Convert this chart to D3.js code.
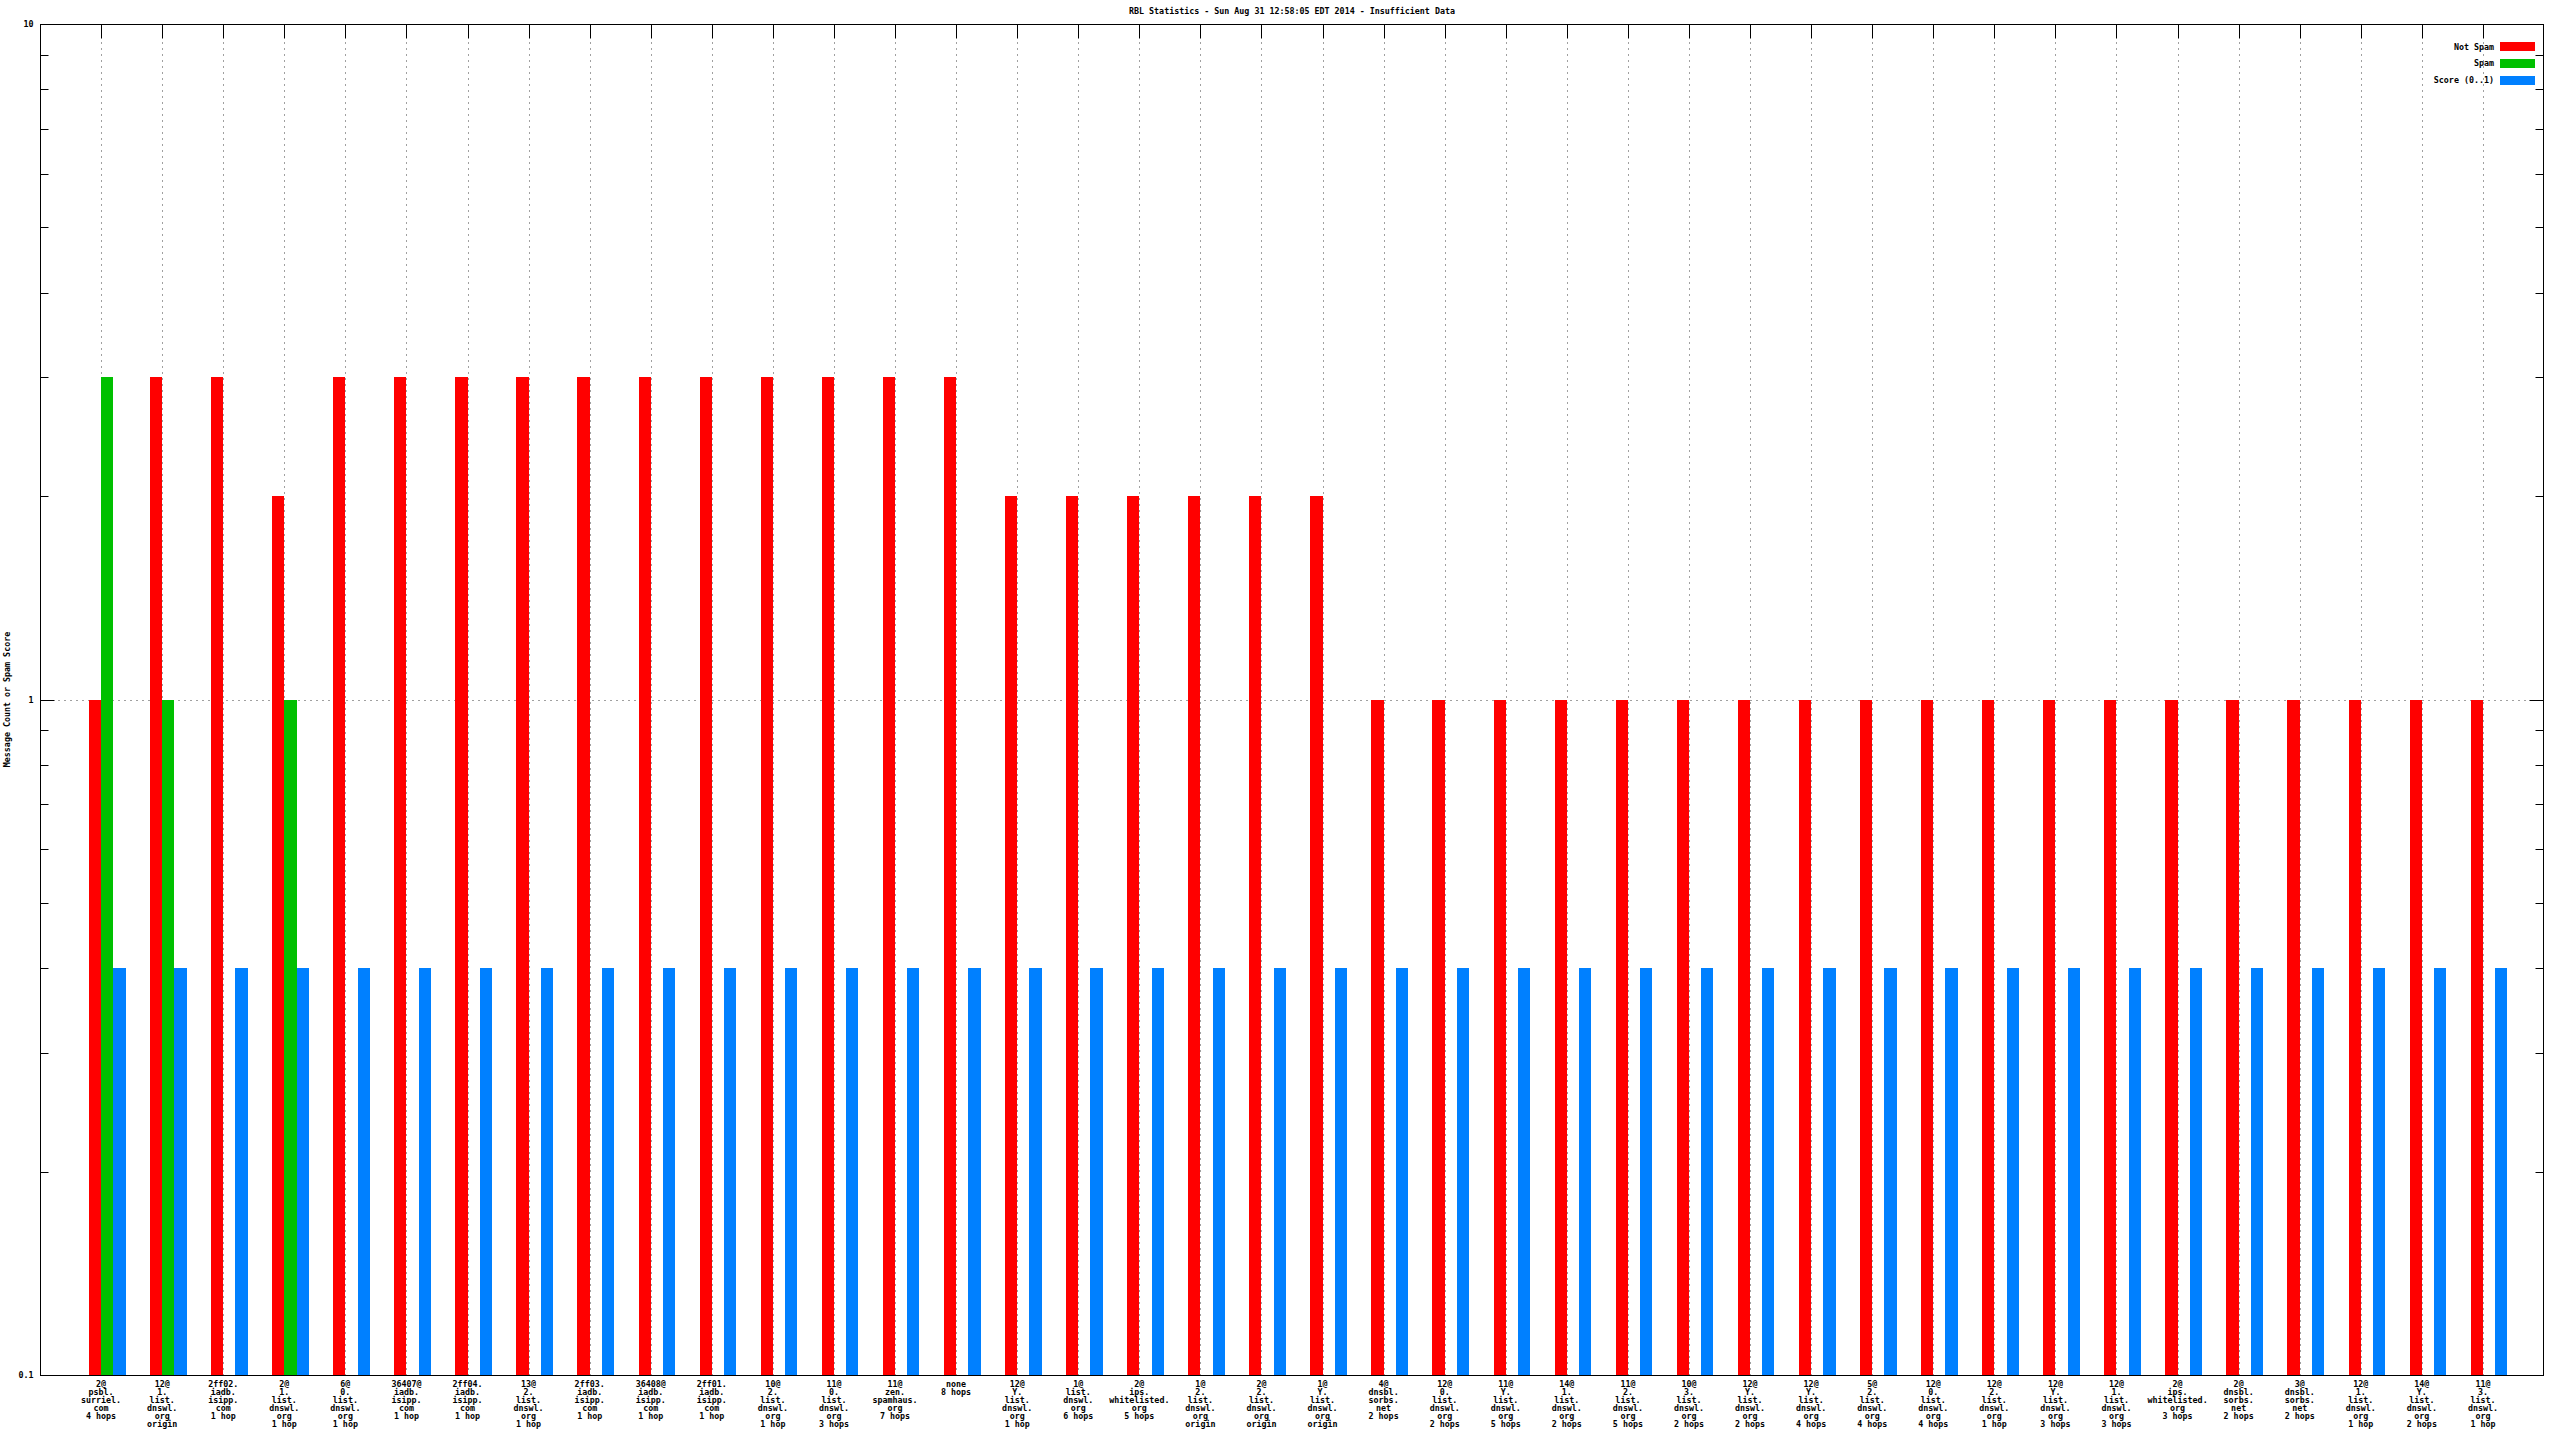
<!DOCTYPE html>
<html>
<head>
<meta charset="utf-8">
<script src="https://cdn.jsdelivr.net/npm/d3@7"></script>
<style>
  html, body { margin: 0; padding: 0; background: #fff; }
  svg { display: block; }
  text { font-family: 'DejaVu Sans Mono', 'Liberation Mono', monospace; font-size: 8.33px; font-weight: bold; fill: #000; }
</style>
</head>
<body>
<script>
// ---------- DATA ----------
const title = "RBL Statistics - Sun Aug 31 12:58:05 EDT 2014 - Insufficient Data";
const yLabel = "Message Count or Spam Score";
const seriesNames = ["Not Spam", "Spam", "Score (0..1)"];
const seriesColors = ["#ff0000", "#00c000", "#0080ff"];
const categories = [
  "2@\npsbl.\nsurriel.\ncom\n4 hops",
  "12@\n1.\nlist.\ndnswl.\norg\norigin",
  "2ff02.\niadb.\nisipp.\ncom\n1 hop",
  "2@\n1.\nlist.\ndnswl.\norg\n1 hop",
  "6@\n0.\nlist.\ndnswl.\norg\n1 hop",
  "36407@\niadb.\nisipp.\ncom\n1 hop",
  "2ff04.\niadb.\nisipp.\ncom\n1 hop",
  "13@\n2.\nlist.\ndnswl.\norg\n1 hop",
  "2ff03.\niadb.\nisipp.\ncom\n1 hop",
  "36408@\niadb.\nisipp.\ncom\n1 hop",
  "2ff01.\niadb.\nisipp.\ncom\n1 hop",
  "10@\n2.\nlist.\ndnswl.\norg\n1 hop",
  "11@\n0.\nlist.\ndnswl.\norg\n3 hops",
  "11@\nzen.\nspamhaus.\norg\n7 hops",
  "none\n8 hops",
  "12@\nY.\nlist.\ndnswl.\norg\n1 hop",
  "1@\nlist.\ndnswl.\norg\n6 hops",
  "2@\nips.\nwhitelisted.\norg\n5 hops",
  "1@\n2.\nlist.\ndnswl.\norg\norigin",
  "2@\n2.\nlist.\ndnswl.\norg\norigin",
  "1@\nY.\nlist.\ndnswl.\norg\norigin",
  "4@\ndnsbl.\nsorbs.\nnet\n2 hops",
  "12@\n0.\nlist.\ndnswl.\norg\n2 hops",
  "11@\nY.\nlist.\ndnswl.\norg\n5 hops",
  "14@\n1.\nlist.\ndnswl.\norg\n2 hops",
  "11@\n2.\nlist.\ndnswl.\norg\n5 hops",
  "10@\n3.\nlist.\ndnswl.\norg\n2 hops",
  "12@\nY.\nlist.\ndnswl.\norg\n2 hops",
  "12@\nY.\nlist.\ndnswl.\norg\n4 hops",
  "5@\n2.\nlist.\ndnswl.\norg\n4 hops",
  "12@\n0.\nlist.\ndnswl.\norg\n4 hops",
  "12@\n2.\nlist.\ndnswl.\norg\n1 hop",
  "12@\nY.\nlist.\ndnswl.\norg\n3 hops",
  "12@\n1.\nlist.\ndnswl.\norg\n3 hops",
  "2@\nips.\nwhitelisted.\norg\n3 hops",
  "2@\ndnsbl.\nsorbs.\nnet\n2 hops",
  "3@\ndnsbl.\nsorbs.\nnet\n2 hops",
  "12@\n1.\nlist.\ndnswl.\norg\n1 hop",
  "14@\nY.\nlist.\ndnswl.\norg\n2 hops",
  "11@\n3.\nlist.\ndnswl.\norg\n1 hop"
];
const notSpam = [1, 3, 3, 2, 3, 3, 3, 3, 3, 3, 3, 3, 3, 3, 3, 2, 2, 2, 2, 2, 2,
                 1, 1, 1, 1, 1, 1, 1, 1, 1, 1, 1, 1, 1, 1, 1, 1, 1, 1, 1];
const spam    = [3, 1, 0, 1, 0, 0, 0, 0, 0, 0, 0, 0, 0, 0, 0, 0, 0, 0, 0, 0, 0,
                 0, 0, 0, 0, 0, 0, 0, 0, 0, 0, 0, 0, 0, 0, 0, 0, 0, 0, 0];
const score   = [0.4, 0.4, 0.4, 0.4, 0.4, 0.4, 0.4, 0.4, 0.4, 0.4, 0.4, 0.4, 0.4, 0.4, 0.4, 0.4, 0.4, 0.4, 0.4, 0.4, 0.4,
                 0.4, 0.4, 0.4, 0.4, 0.4, 0.4, 0.4, 0.4, 0.4, 0.4, 0.4, 0.4, 0.4, 0.4, 0.4, 0.4, 0.4, 0.4, 0.4];
const yMajorTicks = [0.1, 1, 10];
const yTickLabels = ["0.1", "1", "10"];
const yMinorTicks = [0.2, 0.3, 0.4, 0.5, 0.6, 0.7, 0.8, 0.9, 2, 3, 4, 5, 6, 7, 8, 9];

// ---------- LAYOUT ----------
const W = 2560, H = 1440;
const L = 40, R = 2544, T = 24, B = 1375;
const series = [notSpam, spam, score];

const svg = d3.select("body").append("svg").attr("width", W).attr("height", H);

const x = d3.scaleLinear().domain([-1, categories.length]).range([L, R]);
const y = d3.scaleLog().domain([0.1, 10]).range([B, T]);
const barW = 0.2; // in category units
const offsets = [-0.2, 0, 0.2];

// grid
const grid = svg.append("g").attr("stroke", "#a0a0a0").attr("stroke-dasharray", "2,4").attr("fill", "none");
categories.forEach((c, i) => {
  const xx = Math.round(x(i)) + 0.5;
  grid.append("line").attr("x1", xx).attr("x2", xx).attr("y1", T).attr("y2", B);
});
yMajorTicks.filter(v => v > 0.1 && v < 10).forEach(v => {
  const yy = Math.round(y(v)) + 0.5;
  grid.append("line").attr("x1", L).attr("x2", R).attr("y1", yy).attr("y2", yy);
});

// bars
series.forEach((vals, s) => {
  svg.append("g").selectAll("rect")
    .data(vals.map((v, i) => ({ v, i })).filter(d => d.v > 0))
    .join("rect")
    .attr("x", d => x(d.i + offsets[s]))
    .attr("width", d => x(d.i + offsets[s] + barW) - x(d.i + offsets[s]))
    .attr("y", d => y(d.v))
    .attr("height", d => y(0.1) - y(d.v))
    .attr("fill", seriesColors[s])
    .attr("shape-rendering", "crispEdges");
});

// border
svg.append("rect").attr("x", L + 0.5).attr("y", T + 0.5).attr("width", R - L - 1).attr("height", B - T)
  .attr("fill", "none").attr("stroke", "#000").attr("stroke-width", 1);

// y axis left (ticks inward)
const yAxis = d3.axisLeft(y).tickValues(yMajorTicks)
  .tickFormat((d, i) => yTickLabels[i]).tickSize(-14).tickPadding(7);
const gy = svg.append("g").attr("transform", `translate(${L + 0.5},0)`).call(yAxis);
gy.select(".domain").remove();
gy.selectAll("text").style("font-family", "'DejaVu Sans Mono', monospace").style("font-size", "8.33px")
  .style("font-weight", "bold").attr("fill", "#000");
gy.selectAll("line").attr("stroke", "#000");
gy.selectAll(".tick").attr("transform", d => `translate(0,${Math.round(y(d)) + 0.5})`);

const yMinor = d3.axisLeft(y).tickValues(yMinorTicks).tickFormat("").tickSize(-8);
const gym = svg.append("g").attr("transform", `translate(${L + 0.5},0)`).call(yMinor);
gym.select(".domain").remove();
gym.selectAll("line").attr("stroke", "#000");
gym.selectAll(".tick").attr("transform", d => `translate(0,${Math.round(y(d)) + 0.5})`);

// mirror y ticks on the right
const yR = d3.axisRight(y).tickValues(yMajorTicks).tickFormat("").tickSize(-14);
const gyr = svg.append("g").attr("transform", `translate(${R - 0.5},0)`).call(yR);
gyr.select(".domain").remove();
gyr.selectAll("line").attr("stroke", "#000");
gyr.selectAll(".tick").attr("transform", d => `translate(0,${Math.round(y(d)) + 0.5})`);
const yRm = d3.axisRight(y).tickValues(yMinorTicks).tickFormat("").tickSize(-8);
const gyrm = svg.append("g").attr("transform", `translate(${R - 0.5},0)`).call(yRm);
gyrm.select(".domain").remove();
gyrm.selectAll("line").attr("stroke", "#000");
gyrm.selectAll(".tick").attr("transform", d => `translate(0,${Math.round(y(d)) + 0.5})`);

// top mirror x ticks
const xTop = d3.axisTop(x).tickValues(d3.range(categories.length)).tickFormat("").tickSize(-14);
const gxt = svg.append("g").attr("transform", `translate(0,${T + 0.5})`).call(xTop);
gxt.select(".domain").remove();
gxt.selectAll("line").attr("stroke", "#000");
gxt.selectAll(".tick").attr("transform", d => `translate(${Math.round(x(d)) + 0.5},0)`);

// x labels (multi-line)
const xl = svg.append("g");
categories.forEach((c, i) => {
  const t = xl.append("text").attr("text-anchor", "middle")
    .attr("transform", `translate(${x(i)},${B + 12})`);
  c.split("\n").forEach((line, j) => {
    t.append("tspan").attr("x", 0).attr("y", j * 8).text(line);
  });
});

// title
svg.append("text").attr("x", (L + R) / 2).attr("y", 14).attr("text-anchor", "middle").text(title);

// y label
svg.append("text").attr("transform", `translate(10,${(T + B) / 2}) rotate(-90)`)
  .attr("text-anchor", "middle").text(yLabel);

// legend
const lg = svg.append("g");
seriesNames.forEach((n, i) => {
  const cy = 46.7 + i * 16.7;
  lg.append("text").attr("x", 2494).attr("y", cy + 3).attr("text-anchor", "end").text(n);
  lg.append("rect").attr("x", 2500).attr("y", Math.round(cy - 4.5)).attr("width", 35).attr("height", 9)
    .attr("fill", seriesColors[i]);
});
</script>
</body>
</html>
